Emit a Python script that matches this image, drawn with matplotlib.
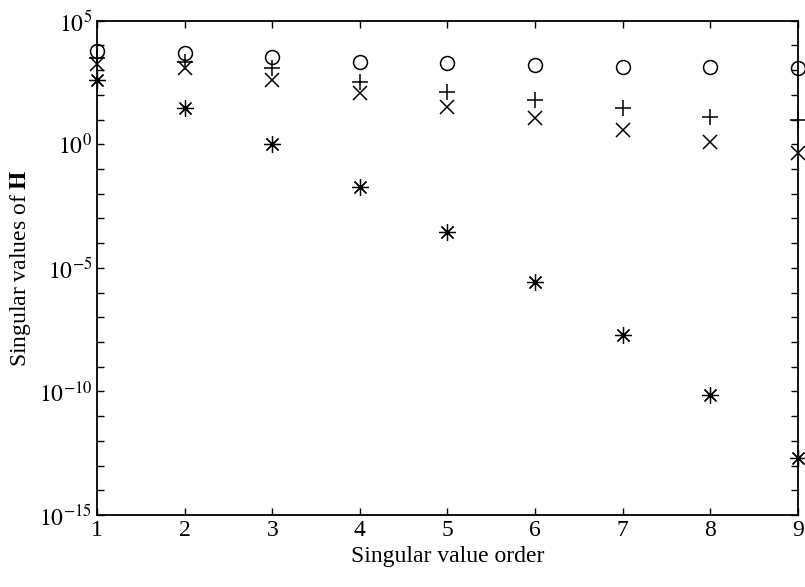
import numpy as np
import matplotlib
matplotlib.use("Agg")
import matplotlib.pyplot as plt
from matplotlib.ticker import FixedLocator, NullFormatter

order = [1, 2, 3, 4, 5, 6, 7, 8, 9]
# log10 of singular values
circle_log = [3.77, 3.69, 3.52, 3.34, 3.27, 3.20, 3.14, 3.12, 3.07]
plus_log = [3.50, 3.34, 3.08, 2.53, 2.13, 1.79, 1.46, 1.11, 0.98]
cross_log = [3.25, 3.07, 2.62, 2.06, 1.52, 1.06, 0.58, 0.10, -0.36]
star_log = [2.60, 1.47, 0.00, -1.72, -3.54, -5.58, -7.72, -10.13, -12.68]

circle_v = [10 ** v for v in circle_log]
plus_v = [10 ** v for v in plus_log]
cross_v = [10 ** v for v in cross_log]
star_v = [10 ** v for v in star_log]

plt.rcParams['font.family'] = ['Liberation Serif', 'DejaVu Serif']
plt.rcParams['mathtext.fontset'] = 'stix'

fig = plt.figure(figsize=(8.05, 5.87), dpi=100)
ax = fig.add_axes([0.1205, 0.1227, 0.8708, 0.842])

kw = dict(linestyle='none', color='black', clip_on=False, zorder=3)
ax.plot(order, circle_v, marker='o', markersize=10, markerfacecolor='none',
        markeredgewidth=1.1, **kw)
ax.plot(order, plus_v, marker='+', markersize=11, markeredgewidth=1.1, **kw)
ax.plot(order, cross_v, marker='x', markersize=10, markeredgewidth=1.1, **kw)
ax.plot(order, star_v, marker=(8, 2, 0), markersize=12, markeredgewidth=0.9, **kw)

ax.set_yscale('log')
ax.set_xlim(1, 9)
ax.set_ylim(1e-15, 1e5)
ax.xaxis.set_major_locator(FixedLocator(order))
ax.yaxis.set_major_locator(FixedLocator([1e-15, 1e-10, 1e-5, 1e0, 1e5]))
ax.yaxis.set_minor_locator(FixedLocator([10.0 ** k for k in range(-15, 6)]))
ax.yaxis.set_minor_formatter(NullFormatter())
ax.set_yticklabels([r'$10^{-15}$', r'$10^{-10}$', r'$10^{-5}$', r'$10^{0}$', r'$10^{5}$'])

ax.tick_params(which='both', direction='in', top=True, right=True,
               length=5, width=1, labelsize=17, colors='black')
for s in ax.spines.values():
    s.set_linewidth(1.3)

ax.set_xlabel('Singular value order', fontsize=17, labelpad=4)
ax.set_ylabel(r'Singular values of $\mathbf{H}$', fontsize=17, labelpad=4)

fig.savefig('out.png', dpi=100)
